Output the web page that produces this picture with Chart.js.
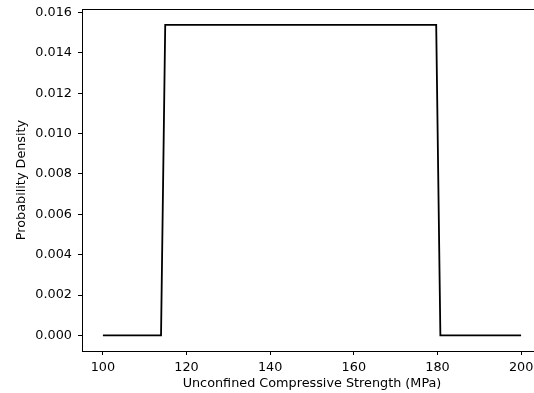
<!DOCTYPE html>
<html>
<head>
<meta charset="utf-8">
<script src="https://cdn.jsdelivr.net/npm/chart.js@4.4.1/dist/chart.umd.min.js"></script>
<style>
  html, body { margin: 0; padding: 0; background: #fff; overflow: hidden; }
  #wrap { width: 545px; height: 393px; }
</style>
</head>
<body>
<div id="wrap"><canvas id="chart" width="545" height="393"></canvas></div>
<script>
// Uniform density, breakpoints
const strengthMPa = [100, 113.9, 114.9, 179.7, 180.7, 200];
const density = [0, 0, 0.01538, 0.01538, 0, 0];
const xTicks = [100, 120, 140, 160, 180, 200];
const yTicks = [0, 0.002, 0.004, 0.006, 0.008, 0.010, 0.012, 0.014, 0.016];

const FONT = { family: 'DejaVu Sans', size: 12.8 };

// draws the closed axes box
const frame = {
  id: 'frame',
  afterDraw(chart) {
    const a = chart.chartArea, c = chart.ctx;
    c.save();
    c.strokeStyle = '#000';
    c.lineWidth = 1;
    c.strokeRect(Math.round(a.left) + 0.5, Math.round(a.top) + 0.5,
      Math.round(a.right - a.left), Math.round(a.bottom - a.top));
    c.restore();
  }
};

new Chart(document.getElementById('chart'), {
  type: 'line',
  data: {
    datasets: [{
      data: strengthMPa.map((x, i) => ({ x: x, y: density[i] })),
      borderColor: '#000',
      borderWidth: 1.8,
      pointRadius: 0,
      tension: 0,
      fill: false
    }]
  },
  options: {
    responsive: false,
    animation: false,
    layout: { padding: { top: 9, right: 3, left: 0, bottom: 0 } },
    plugins: { legend: { display: false }, tooltip: { enabled: false } },
    scales: {
      x: {
        type: 'linear',
        min: 95, max: 205,
        afterBuildTicks: s => { s.ticks = xTicks.map(v => ({ value: v })); },
        afterFit: s => { s.height = 42; s.paddingLeft = 0; s.paddingRight = 0; },
        grid: { drawOnChartArea: false, drawTicks: true, tickLength: 4, tickColor: '#000' },
        border: { display: true, color: '#000' },
        ticks: { color: '#000', font: FONT, padding: 5, maxRotation: 0,
          callback: v => String(v) },
        title: { display: true, text: 'Unconfined Compressive Strength (MPa)',
          color: '#000', font: FONT, padding: { top: 0, bottom: 2 } }
      },
      y: {
        min: -0.00077, max: 0.01617,
        afterBuildTicks: s => { s.ticks = yTicks.map(v => ({ value: v })); },
        afterFit: s => { s.width = 82; s.paddingTop = 0; s.paddingBottom = 0; },
        grid: { drawOnChartArea: false, drawTicks: true, tickLength: 4, tickColor: '#000' },
        border: { display: true, color: '#000' },
        ticks: { color: '#000', font: FONT, padding: 6,
          callback: v => v.toFixed(3) },
        title: { display: true, text: 'Probability Density',
          color: '#000', font: FONT, padding: { top: 14, bottom: 0 } }
      }
    }
  },
  plugins: [frame]
});
</script>
</body>
</html>
